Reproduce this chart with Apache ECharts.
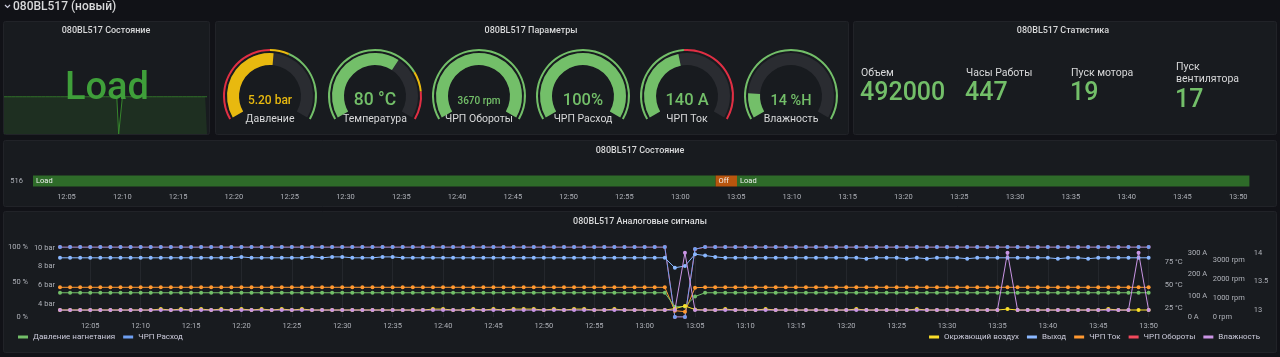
<!DOCTYPE html>
<html>
<head>
<meta charset="utf-8">
<script src="https://cdn.jsdelivr.net/npm/echarts@6/dist/echarts.min.js"></script>
<style>
html,body{margin:0;padding:0;background:#111217;}
#chart{width:1280px;height:357px;}
</style>
</head>
<body>
<div id="chart"></div>
<script>
// ---------------- DATA ----------------
const seriesStart = '12:02';          // first sample (one sample per minute)
const rangeEnd = '13:51';             // right edge of the time range
const tickLabels = ['12:05','12:10','12:15','12:20','12:25','12:30','12:35','12:40','12:45','12:50','12:55',
                    '13:00','13:05','13:10','13:15','13:20','13:25','13:30','13:35','13:40','13:45','13:50'];

// state timeline segments
const stateNames  = ['Load','Off','Load'];
const stateStarts = ['12:02:00','13:03:10','13:05:05'];
const stateEnds   = ['13:03:10','13:05:05','13:51:00'];
const stateRowLabel = ['516'];

// sparkline of state (1 = Load, 0 = Off), per minute 12:02..13:50
const stateValues = [
 1,1,1,1,1,1,1,1,1,1, 1,1,1,1,1,1,1,1,1,1, 1,1,1,1,1,1,1,1,1,1,
 1,1,1,1,1,1,1,1,1,1, 1,1,1,1,1,1,1,1,1,1, 1,1,1,1,1,1,1,1,1,1,
 1,0,0,1,1,1,1,1,1,1, 1,1,1,1,1,1,1,1,1,1, 1,1,1,1,1,1,1,1,1,1,
 1,1,1,1,1,1,1,1,1,1, 1,1,1,1,1,1,1,1,1];

// time series, per minute 12:02..13:50
const davlenie = [ // bar
 5.2,5.2,5.2,5.2,5.2,5.2,5.2,5.2,5.2,5.2, 5.2,5.2,5.2,5.2,5.2,5.2,5.2,5.2,5.2,5.2,
 5.2,5.2,5.2,5.2,5.2,5.2,5.2,5.2,5.2,5.2, 5.2,5.2,5.2,5.2,5.2,5.2,5.2,5.2,5.2,5.2,
 5.2,5.2,5.2,5.2,5.2,5.2,5.2,5.2,5.2,5.2, 5.2,5.2,5.2,5.2,5.2,5.2,5.2,5.2,5.2,5.2,
 5.2,3.7,3.75,4.8,5.2,5.2,5.2,5.2,5.2,5.2, 5.2,5.2,5.2,5.2,5.2,5.2,5.2,5.2,5.2,5.2,
 5.2,5.2,5.2,5.2,5.2,5.2,5.2,5.2,5.2,5.2, 5.2,5.2,5.2,5.2,5.2,5.2,5.2,5.2,5.2,5.2,
 5.2,5.2,5.2,5.2,5.2,5.2,5.2,5.2,5.2];
const rashod = [ // %
 100,100,100,100,100,100,100,100,100,100, 100,100,100,100,100,100,100,100,100,100,
 100,100,100,100,100,100,100,100,100,100, 100,100,100,100,100,100,100,100,100,100,
 100,100,100,100,100,100,100,100,100,100, 100,100,100,100,100,100,100,100,100,100,
 100,0,0,97,100,100,100,100,100,100, 100,100,100,100,100,100,100,100,100,100,
 100,100,100,100,100,100,100,100,100,100, 100,100,100,100,100,100,100,100,100,100,
 100,100,100,100,100,100,100,100,100];
const vozduh = [ // °C
 22.5,22.5,22.5,22.5,22.5,22.5,22.5,22.5,22.5,22.5, 23.5,22.5,23.5,22.5,23.5,22.5,23.5,22.5,23.5,22.5,
 23.5,22.5,23.5,22.5,23.5,22.5,22.5,22.5,22.5,22.5, 22.5,22.5,22.5,22.5,22.5,22.5,22.5,23.5,23.5,22.5,
 22.5,23.5,22.5,23.5,22.5,23.5,23.5,23.5,22.5,23.5, 22.5,23.5,23.5,22.5,22.5,23.5,22.5,22.5,22.5,22.5,
 22.5,24,27,23,22.5,22.5,23.5,22.5,22.5,22.5, 23.5,22.5,22.5,22.5,22.5,22.5,22.5,22.5,22.5,23.5,
 22.5,22.5,22.5,22.5,22.5,23.5,22.5,22.5,22.5,22.5, 22.5,22.5,22.5,22.5,23.5,22.5,22.5,22.5,22.5,22.5,
 22.5,22.5,22.5,22.5,23.5,22.5,22.5,22.5,22.5];
const vyhod = [ // °C
 80,80,80,80,80,80,80,80,80,80, 80,80,80,80,80,80,80,80,81,80,
 80,80,80,80,80,81,80,81,81,80, 80,80,81,81,80,80,80,80,80,80,
 80,80,80,80,80,80,80,80,80,80, 80,80,80,80,80,80,80,80,80,80,
 80,69,71,84,82.5,81,80,80,80,80, 80,80,80,80,80,80,80,80,80,80,
 79,80,80,80,79,80,79,80,80,80, 79,80,80,80,80,80,80,80,80,79,
 80,80,79,80,80,80,80,80,80];
const tok = [ // A
 140,140,140,140,140,140,140,140,140,140, 140,140,140,140,140,140,140,140,140,140,
 140,140,140,140,140,140,140,140,140,140, 140,140,140,140,140,140,140,140,140,140,
 140,140,140,140,140,140,140,140,140,140, 140,140,140,140,140,140,140,140,140,140,
 140,30,25,138,140,140,140,140,140,140, 140,140,140,140,140,140,140,140,140,140,
 140,140,140,140,140,140,140,140,140,140, 140,140,140,140,140,140,140,140,140,140,
 140,140,140,140,140,140,140,140,140];
const oboroty = [ // rpm
 3670,3670,3670,3670,3670,3670,3670,3670,3670,3670, 3670,3670,3670,3670,3670,3670,3670,3670,3670,3670,
 3670,3670,3670,3670,3670,3670,3670,3670,3670,3670, 3670,3670,3670,3670,3670,3670,3670,3670,3670,3670,
 3670,3670,3670,3670,3670,3670,3670,3670,3670,3670, 3670,3670,3670,3670,3670,3670,3670,3670,3670,3670,
 3670,0,0,3550,3670,3670,3670,3670,3670,3670, 3670,3670,3670,3670,3670,3670,3670,3670,3670,3670,
 3670,3670,3670,3670,3670,3670,3670,3670,3670,3670, 3670,3670,3670,3670,3670,3670,3670,3670,3670,3670,
 3670,3670,3670,3670,3670,3670,3670,3670,3670];
const vlazhnost = [
 13,13,13,13,13,13,13,13,13,13, 13,13,13,13,13,13,13,13,13,13,
 13,13,13,13,13,13,13,13,13,13, 13,13,13,13,13,13,13,13,13,13,
 13,13,13,13,13,13,13,13,13,13, 13,13,13,13,13,13,13,13,13,13,
 13,13,14,13,13,13,13,13,13,13, 13,13,13,13,13,13,13,13,13,13,
 13,13,13,13,13,13,13,13,13,13, 13,13,13,13,14,13,13,13,13,13,
 13,13,13,13,13,13,13,14,13];

// gauges
const gaugeNames  = ['Давление','Температура','ЧРП Обороты','ЧРП Расход','ЧРП Ток','Влажность'];
const gaugeValues = [5.2, 80, 3670, 100, 140, 14];
const gaugeUnits  = [' bar',' °C',' rpm','%',' A',' %H'];
const gaugeDecimals = [2,0,0,0,0,0];
const gaugeMin = [0, 20, 0, 0, 0, 0];
const gaugeMax = [10, 114, 3670, 100, 310, 100];
const gaugeThresholds = [ // [upper bound, colour name]
 [[5,'red'],[6,'yellow'],[Infinity,'green']],
 [[90,'green'],[100,'yellow'],[Infinity,'red']],
 [[Infinity,'green']],
 [[Infinity,'green']],
 [[150,'green'],[Infinity,'red']],
 [[Infinity,'green']]
];

// statistics
const statLabels = ['Объем','Часы Работы','Пуск мотора','Пуск\nвентилятора'];
const statValues = [492000, 447, 19, 17];

// ---------------- STYLE / LAYOUT ----------------
const COL = {red:'#E02F44', yellow:'#E8B90F', green:'#73BF69'};
const FONT = 'Roboto';
const AX = '#aeb1b8';
const toMs = s => { const p = s.split(':'); return new Date(2024,0,1,+p[0],+p[1],+(p[2]||0)).getTime(); };
const fmt = v => { const d = new Date(v); return String(d.getHours()).padStart(2,'0')+':'+String(d.getMinutes()).padStart(2,'0'); };
const t0 = toMs(seriesStart), tEnd = toMs(rangeEnd);
const times = stateValues.map((_, i) => t0 + i*60000);
const ticksMs = tickLabels.map(toMs);
const pairs = arr => arr.map((v, i) => [times[i], v]);

const panels = [[3,21,206,113],[215,21,633,113],[853,21,423,113],[3,140,1273,66],[3,211,1273,141]];
const titles = [['080BL517 Состояние',106,31],['080BL517 Параметры',531,31],['080BL517 Статистика',1063,31],
                ['080BL517 Состояние',640,151],['080BL517 Аналоговые сигналы',640,222]];
const graphic = [];
panels.forEach(p => graphic.push({type:'rect', z:-5, silent:true, shape:{x:p[0]+0.5,y:p[1]+0.5,width:p[2],height:p[3],r:2},
  style:{fill:'#181b1f', stroke:'#212328', lineWidth:1}}));
titles.forEach(t => graphic.push({type:'text', z:10, silent:true, x:t[1], y:t[2],
  style:{text:t[0], fill:'#d8d9da', font:'500 9px '+FONT, align:'center', verticalAlign:'middle'}}));
graphic.push({type:'polyline', z:10, silent:true, shape:{points:[[5,5],[7.5,7.5],[10,5]]}, style:{stroke:'#ccccdc', lineWidth:1.2, fill:null}});
graphic.push({type:'text', z:10, silent:true, x:13, y:6.5, style:{text:'080BL517 (новый)', fill:'#d8d9da', font:'500 12px '+FONT, verticalAlign:'middle'}});
graphic.push({type:'text', z:20, silent:true, x:107, y:89, style:{text:'Load', fill:'#3f9f3a', font:'500 38px '+FONT, align:'center', verticalAlign:'middle'}});
const statX = [861, 966, 1071, 1176];
statLabels.forEach((l, i) => {
  const two = l.indexOf('\n') >= 0;
  graphic.push({type:'text', z:10, silent:true, x:statX[i], y:73,
    style:{text:l, fill:'#d8d9da', font:'10.5px '+FONT, verticalAlign:'middle', lineHeight:12}});
  graphic.push({type:'text', z:10, silent:true, x:statX[i]-1, y: two ? 101 : 94,
    style:{text:String(statValues[i]), fill:COL.green, font:'500 25px '+FONT, verticalAlign:'middle'}});
});

// gauges
const gaugeCx = [270, 375, 479, 583, 687, 791];
const gaugeFs = [12, 17.5, 10, 16.5, 16.5, 14.5];
const gaugeSeries = [];
gaugeNames.forEach((name, i) => {
  const mn = gaugeMin[i], mx = gaugeMax[i], v = gaugeValues[i];
  const th = gaugeThresholds[i];
  const stops = th.map(t => [Math.min(1, (t[0]-mn)/(mx-mn)), COL[t[1]]]);
  const hit = th.find(t => v < t[0]);
  const band = COL[hit ? hit[1] : th[th.length-1][1]];
  const common = {type:'gauge', center:[gaugeCx[i], 96], startAngle:210, endAngle:-30, min:mn, max:mx, silent:true,
    pointer:{show:false}, axisTick:{show:false}, splitLine:{show:false}, axisLabel:{show:false}, anchor:{show:false}};
  gaugeSeries.push(Object.assign({}, common, {radius:47,
    axisLine:{lineStyle:{width:2, color:stops}}, detail:{show:false}, title:{show:false}, data:[{value:v}]}));
  gaugeSeries.push(Object.assign({}, common, {radius:43,
    axisLine:{lineStyle:{width:12, color:[[1,'#2a2c31']]}},
    progress:{show:true, width:12, itemStyle:{color:band}},
    detail:{offsetCenter:[0,5], fontSize:gaugeFs[i], fontFamily:FONT, fontWeight:500, color:band,
            formatter: val => val.toFixed(gaugeDecimals[i]) + gaugeUnits[i]},
    title:{offsetCenter:[0,23], fontSize:10.5, fontFamily:FONT, color:'#d8d9da'},
    data:[{value:v, name:name}]}));
});

// line series helper
const lineS = (name, data, yIdx, color, z) => ({
  name, type:'line', xAxisIndex:0, yAxisIndex:yIdx, data:pairs(data), z,
  symbol:'circle', symbolSize:4, showSymbol:true, showAllSymbol:true,
  lineStyle:{width:1, color}, itemStyle:{color}, emphasis:{disabled:true}
});

const yLab = (suffix) => ({fontSize:7.5, fontFamily:FONT, color:AX, margin:5, formatter: v => v + suffix});
const yBase = {type:'value', gridIndex:0, splitLine:{show:false}, axisLine:{show:false}, axisTick:{show:false}};

const option = {
  backgroundColor:'#111217',
  animation:false,
  textStyle:{fontFamily:FONT},
  graphic,
  grid:[
    {left:60, top:247, width:1098.7, height:70},
    {left:33, top:172, width:1216.4, height:18},
    {left:4, top:96.7, width:203, height:37.3}
  ],
  xAxis:[
    {type:'value', gridIndex:0, min:t0, max:tEnd, axisLine:{show:false}, axisTick:{show:false, customValues:ticksMs},
     axisLabel:{customValues:ticksMs, formatter:fmt, fontSize:7.5, fontFamily:FONT, color:AX, margin:5},
     splitLine:{show:true, lineStyle:{color:'rgba(204,204,220,0.07)', width:1}}},
    {type:'value', gridIndex:1, min:t0, max:tEnd, axisLine:{show:false}, axisTick:{show:false, customValues:ticksMs},
     axisLabel:{customValues:ticksMs, formatter:fmt, fontSize:7.5, fontFamily:FONT, color:AX, margin:3},
     splitLine:{show:false}},
    {type:'value', gridIndex:2, min:times[0], max:times[times.length-1], show:false, splitLine:{show:false}}
  ],
  yAxis:[
    Object.assign({}, yBase, {position:'left', offset:0, min:2.62, max:10.07, axisLabel:Object.assign(yLab(' bar'), {customValues:[4,6,8,10]})}),
    Object.assign({}, yBase, {position:'left', offset:27, min:0, max:100, axisLabel:Object.assign(yLab(' %'), {customValues:[0,50,100]})}),
    Object.assign({}, yBase, {position:'right', offset:1, min:14.8, max:91.9, axisLabel:Object.assign(yLab(' °C'), {customValues:[25,50,75]})}),
    Object.assign({}, yBase, {position:'right', offset:24, min:0, max:330, axisLabel:Object.assign(yLab(' A'), {customValues:[0,100,200,300]})}),
    Object.assign({}, yBase, {position:'right', offset:49, min:0, max:3670, axisLabel:Object.assign(yLab(' rpm'), {customValues:[0,1000,2000,3000]})}),
    Object.assign({}, yBase, {position:'right', offset:90, min:12.88, max:14.1, axisLabel:Object.assign(yLab(''), {customValues:[13,13.5,14]})}),
    {type:'category', gridIndex:1, data:stateRowLabel, axisLine:{show:false}, axisTick:{show:false},
     axisLabel:{fontSize:7.5, fontFamily:FONT, color:AX, margin:10}},
    {type:'value', gridIndex:2, min:0, max:1, show:false, splitLine:{show:false}}
  ],
  legend:[
    {left:18, top:333, padding:0, itemWidth:10, itemHeight:3, itemGap:8, icon:'rect',
     textStyle:{fontSize:8, fontFamily:FONT, color:'#ccccdc'}, data:['Давление нагнетания','ЧРП Расход'], selectedMode:false},
    {right:20, top:333, padding:0, itemWidth:10, itemHeight:3, itemGap:8, icon:'rect',
     textStyle:{fontSize:8, fontFamily:FONT, color:'#ccccdc'}, data:['Окржающий воздух','Выход','ЧРП Ток','ЧРП Обороты','Влажность'], selectedMode:false}
  ],
  series:[
    lineS('ЧРП Обороты', oboroty, 4, '#F2495C', 2),
    lineS('ЧРП Расход', rashod, 1, '#6E9FF0', 3),
    lineS('Выход', vyhod, 2, '#8AB8FF', 4),
    lineS('ЧРП Ток', tok, 3, '#FF9830', 5),
    lineS('Давление нагнетания', davlenie, 0, '#73BF69', 6),
    lineS('Окржающий воздух', vozduh, 2, '#FADE2A', 7),
    lineS('Влажность', vlazhnost, 5, '#CA95E5', 8),
    {type:'custom', xAxisIndex:1, yAxisIndex:6, silent:true,
     data: stateNames.map((n, i) => [toMs(stateStarts[i]), toMs(stateEnds[i]), 0]),
     encode:{x:[0,1], y:2},
     renderItem:(params, api) => {
       const s = api.coord([api.value(0), 0]);
       const e = api.coord([api.value(1), 0]);
       const name = stateNames[params.dataIndex];
       const h = 11;
       return {type:'group', children:[
         {type:'rect', shape:{x:s[0], y:s[1]-h/2, width:e[0]-s[0], height:h},
          style:{fill: name === 'Load' ? '#2e6b29' : '#b9560e'}},
         {type:'text', style:{text:name, x:s[0]+3, y:s[1], verticalAlign:'middle', fill:'#f0f0f0', font:'7.5px '+FONT}}
       ]};
     }},
    {type:'line', xAxisIndex:2, yAxisIndex:7, data:pairs(stateValues), showSymbol:false, silent:true, z:1,
     lineStyle:{width:1, color:'#37872D'}, areaStyle:{color:'rgba(55,135,45,0.28)'}}
  ].concat(gaugeSeries)
};

const chart = echarts.init(document.getElementById('chart'), null, {renderer:'canvas'});
chart.setOption(option);
</script>
</body>
</html>
